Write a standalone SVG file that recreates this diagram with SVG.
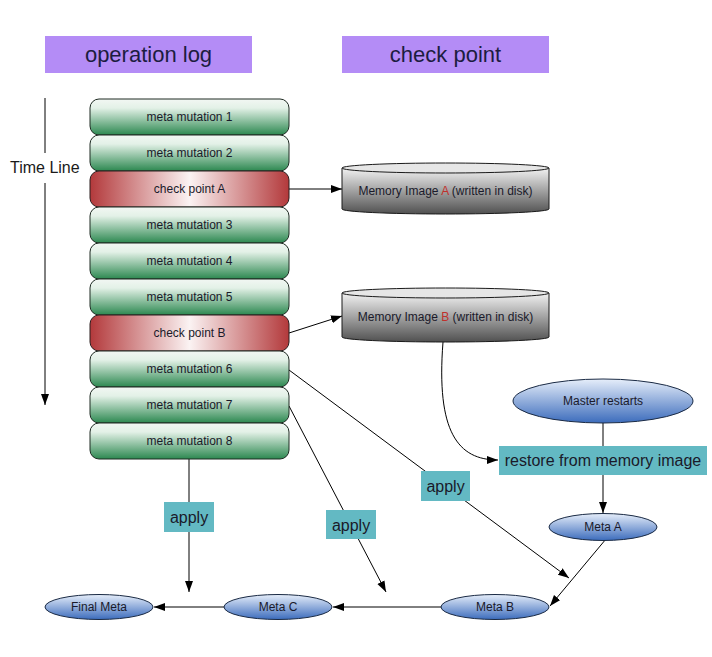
<svg xmlns="http://www.w3.org/2000/svg" width="712" height="657" viewBox="0 0 712 657">
<defs>
<linearGradient id="gGreen" x1="0" y1="0" x2="0" y2="1">
<stop offset="0" stop-color="#f2f7f3"/>
<stop offset="0.25" stop-color="#e3f1e7"/>
<stop offset="1" stop-color="#2c8850"/>
</linearGradient>
<linearGradient id="gRed" x1="0" y1="0" x2="1" y2="0">
<stop offset="0" stop-color="#b3393b"/>
<stop offset="0.5" stop-color="#fbf3f3"/>
<stop offset="1" stop-color="#b3393b"/>
</linearGradient>
<linearGradient id="gGray" x1="0" y1="0" x2="0" y2="1">
<stop offset="0" stop-color="#f2f2f2"/>
<stop offset="1" stop-color="#505050"/>
</linearGradient>
<linearGradient id="gBlue" x1="0" y1="0" x2="0" y2="1">
<stop offset="0" stop-color="#e6eefa"/>
<stop offset="1" stop-color="#3c6cbc"/>
</linearGradient>
<marker id="arr" markerUnits="userSpaceOnUse" markerWidth="12" markerHeight="10" refX="11" refY="4" orient="auto">
<path d="M0,0 L11,4 L0,8 Z" fill="#000"/>
</marker>
</defs>
<style>
.hdr{fill:#b48cf6}
.hdrt{font-family:"Liberation Sans",Arial,sans-serif;font-size:22px;fill:#1c1c40;text-anchor:middle}
.t12{font-family:"Liberation Sans",Arial,sans-serif;font-size:12px;fill:#1a1a2a;text-anchor:middle}
.t16{font-family:"Liberation Sans",Arial,sans-serif;font-size:16px;fill:#1a1a2a;text-anchor:middle}
.lbl{fill:#63b9c3}
.gbox{fill:url(#gGreen);stroke:#1e2a22;stroke-width:1}
.rbox{fill:url(#gRed);stroke:#2a1e1e;stroke-width:1}
.cyl{fill:url(#gGray);stroke:#1a1a1a;stroke-width:1}
.cyltop{fill:#e6e6e6;stroke:#1a1a1a;stroke-width:1}
.ell{fill:url(#gBlue);stroke:#1a2a44;stroke-width:1}
.ln{stroke:#000;stroke-width:1;fill:none}
.la{stroke:#000;stroke-width:1;fill:none;marker-end:url(#arr)}
</style>
<rect width="712" height="657" fill="#fff"/>

<g id="hdr-oplog"><rect class="hdr" x="45" y="36" width="207" height="37"/><text class="hdrt" x="148.5" y="62">operation log</text></g>
<g id="hdr-checkpoint"><rect class="hdr" x="342" y="36" width="207" height="37"/><text class="hdrt" x="445.5" y="62">check point</text></g>

<g id="timeline">
<line class="ln" x1="45" y1="98" x2="45" y2="153"/>
<line class="la" x1="45" y1="183" x2="45" y2="405"/>
<text x="10" y="173" style="font-family:'Liberation Sans',Arial,sans-serif;font-size:16px;fill:#1a1a1a">Time Line</text>
</g>

<g id="connectors">
<line class="la" x1="289" y1="189" x2="342" y2="189"/>
<line class="la" x1="289" y1="333" x2="342" y2="316"/>
<path class="la" d="M443,342 C436,432 458,460 498,460"/>
<line class="ln" x1="603" y1="423" x2="603" y2="446"/>
<line class="la" x1="603" y1="475" x2="603" y2="513"/>
<line class="la" x1="606" y1="539" x2="550" y2="606"/>
<line class="la" x1="289" y1="370" x2="569" y2="578"/>
<line class="la" x1="289" y1="406" x2="386" y2="592"/>
<line class="la" x1="189" y1="459" x2="189" y2="592"/>
<line class="la" x1="441" y1="607" x2="333" y2="607"/>
<line class="la" x1="224" y1="607" x2="154" y2="607"/>
</g>

<g id="mm1"><rect class="gbox" x="90" y="99" width="199" height="36" rx="9"/><text class="t12" x="189.5" y="121">meta mutation 1</text></g>
<g id="mm2"><rect class="gbox" x="90" y="135" width="199" height="36" rx="9"/><text class="t12" x="189.5" y="157">meta mutation 2</text></g>
<g id="cpA"><rect class="rbox" x="90" y="171" width="199" height="36" rx="9"/><text class="t12" x="189.5" y="193">check point A</text></g>
<g id="mm3"><rect class="gbox" x="90" y="207" width="199" height="36" rx="9"/><text class="t12" x="189.5" y="229">meta mutation 3</text></g>
<g id="mm4"><rect class="gbox" x="90" y="243" width="199" height="36" rx="9"/><text class="t12" x="189.5" y="265">meta mutation 4</text></g>
<g id="mm5"><rect class="gbox" x="90" y="279" width="199" height="36" rx="9"/><text class="t12" x="189.5" y="301">meta mutation 5</text></g>
<g id="cpB"><rect class="rbox" x="90" y="315" width="199" height="36" rx="9"/><text class="t12" x="189.5" y="337">check point B</text></g>
<g id="mm6"><rect class="gbox" x="90" y="351" width="199" height="36" rx="9"/><text class="t12" x="189.5" y="373">meta mutation 6</text></g>
<g id="mm7"><rect class="gbox" x="90" y="387" width="199" height="36" rx="9"/><text class="t12" x="189.5" y="409">meta mutation 7</text></g>
<g id="mm8"><rect class="gbox" x="90" y="423" width="199" height="36" rx="9"/><text class="t12" x="189.5" y="445">meta mutation 8</text></g>

<g id="memA">
<path class="cyl" d="M342,168 L342,209 A103.5,5 0 0 0 549,209 L549,168 Z"/>
<ellipse class="cyltop" cx="445.5" cy="168" rx="103.5" ry="5"/>
<text class="t12" x="445.5" y="195">Memory Image <tspan fill="#c0302c">A</tspan> (written in disk)</text>
</g>
<g id="memB">
<path class="cyl" d="M342,293 L342,337 A103.5,5 0 0 0 549,337 L549,293 Z"/>
<ellipse class="cyltop" cx="445.5" cy="293" rx="103.5" ry="5"/>
<text class="t12" x="445.5" y="321">Memory Image <tspan fill="#c0302c">B</tspan> (written in disk)</text>
</g>

<g id="master"><ellipse class="ell" cx="603" cy="401" rx="90" ry="22"/><text class="t12" x="603" y="405">Master restarts</text></g>
<g id="restore"><rect class="lbl" x="499" y="446" width="208" height="29"/><text class="t16" x="603" y="466">restore from memory image</text></g>
<g id="metaA"><ellipse class="ell" cx="603" cy="527" rx="54" ry="13.5"/><text class="t12" x="603" y="531">Meta A</text></g>
<g id="metaB"><ellipse class="ell" cx="495" cy="607" rx="54" ry="12.5"/><text class="t12" x="495" y="611">Meta B</text></g>
<g id="metaC"><ellipse class="ell" cx="278" cy="607" rx="54" ry="12.5"/><text class="t12" x="278" y="611">Meta C</text></g>
<g id="final"><ellipse class="ell" cx="99" cy="607" rx="54" ry="12.5"/><text class="t12" x="99" y="611">Final Meta</text></g>

<g id="apply1"><rect class="lbl" x="164" y="502" width="50" height="30"/><text class="t16" x="189" y="523">apply</text></g>
<g id="apply2"><rect class="lbl" x="326" y="510" width="50" height="29"/><text class="t16" x="351" y="531">apply</text></g>
<g id="apply3"><rect class="lbl" x="421" y="471" width="49" height="30"/><text class="t16" x="445.5" y="492">apply</text></g>
</svg>
